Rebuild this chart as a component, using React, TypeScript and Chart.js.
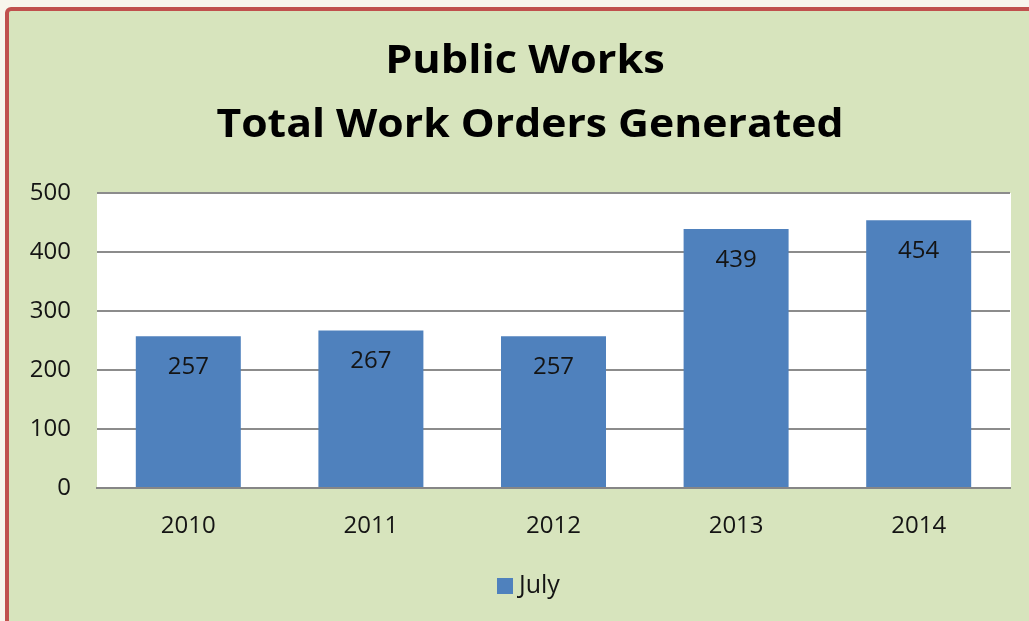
import React, { useEffect, useRef } from "react";
import { Chart, registerables } from "chart.js";

Chart.register(...registerables);

const categories = ["2010", "2011", "2012", "2013", "2014"];
const julyValues = [257, 267, 257, 439, 454];
const seriesName = "July";
const titleLines = ["Public Works", "Total Work Orders Generated"];
const yTicks = [0, 100, 200, 300, 400, 500];

const FONT = "'Open Sans', 'DejaVu Sans', sans-serif";
const GREEN = "#d7e4bd";
const BLUE = "#4f81bd";
const RED = "#c0504d";
const CREAM = "#f8f5ec";
const TEXT = "#141414";

const framePlugin = {
  id: "frame",
  beforeDraw(chart: any) {
    const { ctx, width, height, chartArea } = chart;
    ctx.save();
    ctx.fillStyle = CREAM;
    ctx.fillRect(0, 0, width, height);
    ctx.fillStyle = GREEN;
    ctx.beginPath();
    ctx.roundRect(7, 9, width + 20, height + 20, 4);
    ctx.fill();
    ctx.strokeStyle = RED;
    ctx.lineWidth = 4;
    ctx.stroke();
    ctx.fillStyle = "#ffffff";
    ctx.fillRect(chartArea.left, chartArea.top, chartArea.right - chartArea.left + 1, chartArea.bottom - chartArea.top);
    ctx.restore();
  },
  afterDraw(chart: any) {
    const { ctx } = chart;
    ctx.save();
    // title
    ctx.fillStyle = "#000";
    ctx.textAlign = "center";
    ctx.textBaseline = "middle";
    ctx.font = `bold 39px ${FONT}`;
    const drawStretched = (t: string, x: number, y: number, sx: number) => {
      ctx.save();
      ctx.translate(x, y);
      ctx.scale(sx, 1);
      ctx.fillText(t, 0, 0);
      ctx.restore();
    };
    drawStretched(titleLines[0], 525, 62, 1.11);
    drawStretched(titleLines[1], 530, 126, 1.095);
    // data labels
    const meta = chart.getDatasetMeta(0);
    ctx.font = `24px ${FONT}`;
    ctx.fillStyle = TEXT;
    meta.data.forEach((bar: any, i: number) => {
      ctx.fillText(String(julyValues[i]), bar.x, bar.y + 31);
    });
    // legend
    ctx.fillStyle = BLUE;
    ctx.fillRect(497, 578, 16, 16);
    ctx.fillStyle = TEXT;
    ctx.textAlign = "left";
    ctx.font = `25px ${FONT}`;
    ctx.fillText(seriesName, 519, 586);
    ctx.restore();
  },
};

export default function App() {
  const ref = useRef<HTMLCanvasElement | null>(null);
  useEffect(() => {
    if (!ref.current) return;
    const chart = new Chart(ref.current, {
      type: "bar",
      data: {
        labels: categories,
        datasets: [
          {
            label: seriesName,
            data: julyValues,
            backgroundColor: BLUE,
            categoryPercentage: 1,
            barPercentage: 0.575,
          },
        ],
      },
      options: {
        animation: false,
        responsive: false,
        layout: { padding: { left: 0, right: 19, top: 193, bottom: 63 } },
        plugins: {
          legend: { display: false },
          title: { display: false },
          tooltip: { enabled: false },
        },
        scales: {
          x: {
            grid: { display: false },
            border: { color: "#868686", width: 2 },
            ticks: { color: TEXT, font: { family: FONT, size: 24 }, padding: 16 },
            afterFit: (s: any) => { s.height = 70; },
          },
          y: {
            min: 0,
            max: 500,
            afterBuildTicks: (s: any) => { s.ticks = yTicks.map((v) => ({ value: v })); },
            grid: { color: "#8c8c8c", lineWidth: 2, drawTicks: false },
            border: { display: false },
            ticks: { color: TEXT, font: { family: FONT, size: 24 }, padding: 26 },
            afterFit: (s: any) => { s.width = 97; },
          },
        },
      },
      plugins: [framePlugin],
    });
    return () => chart.destroy();
  }, []);
  return (
    <div style={{ position: "fixed", left: 0, top: 0 }}>
      <canvas ref={ref} width={1029} height={621} style={{ display: "block" }} />
    </div>
  );
}
